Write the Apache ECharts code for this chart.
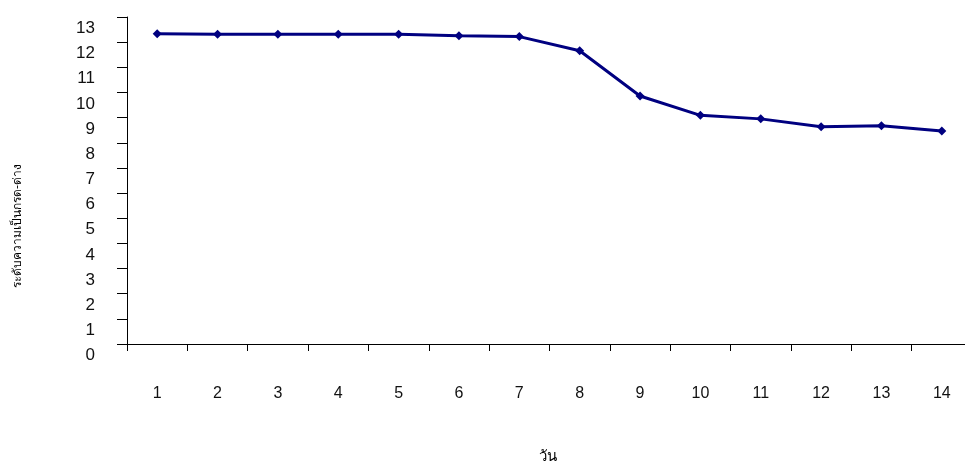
<!DOCTYPE html>
<html>
<head>
<meta charset="utf-8">
<script src="https://cdn.jsdelivr.net/npm/echarts@6/dist/echarts.min.js"></script>
<style>
html,body{margin:0;padding:0;background:#fff;overflow:hidden;}
#main{width:972px;height:464px;}
</style>
</head>
<body>
<div id="main"></div>
<script>
// days and pH values
var days = ['1','2','3','4','5','6','7','8','9','10','11','12','13','14'];
var phValues = [12.33, 12.31, 12.31, 12.31, 12.31, 12.25, 12.22, 11.66, 9.86, 9.09, 8.95, 8.64, 8.68, 8.47];
var yTitle = 'ระดับความเป็นกรด-ด่าง';
var xTitle = 'วัน';

var myChart = echarts.init(document.getElementById('main'));
var option = {
    backgroundColor: '#fff',
    animation: false,
    grid: {left: 127, right: 0, top: 17, bottom: 120},
    xAxis: {
        type: 'category',
        data: days,
        boundaryGap: true,
        axisLine: {lineStyle: {color: '#000', width: 1}},
        axisTick: {show: true, length: 7, inside: false, lineStyle: {color: '#000'}},
        axisLabel: {margin: 42, fontFamily: 'Liberation Sans, Arial', fontSize: 16, color: '#111'},
        splitLine: {show: false}
    },
    yAxis: {
        type: 'value',
        min: 0,
        max: 13,
        interval: 1,
        axisLine: {show: true, lineStyle: {color: '#000', width: 1}},
        axisTick: {show: true, length: 10, lineStyle: {color: '#000'}},
        axisLabel: {margin: 32, fontFamily: 'Liberation Sans, Arial', fontSize: 17, color: '#111',
            verticalAlign: 'top', padding: [3, 0, 0, 0]},
        splitLine: {show: false}
    },
    graphic: [
        {
            type: 'text',
            x: 18, y: 226,
            rotation: Math.PI / 2,
            style: {text: yTitle, font: '12px serif', fill: '#000', align: 'center', verticalAlign: 'middle'}
        },
        {
            type: 'text',
            x: 548, y: 457,
            style: {text: xTitle, font: '15px serif', fill: '#000', align: 'center', verticalAlign: 'middle'}
        }
    ],
    series: [{
        type: 'line',
        data: phValues,
        symbol: 'diamond',
        symbolSize: 9,
        lineStyle: {color: '#000080', width: 3},
        itemStyle: {color: '#000080'}
    }]
};
myChart.setOption(option);
</script>
</body>
</html>
